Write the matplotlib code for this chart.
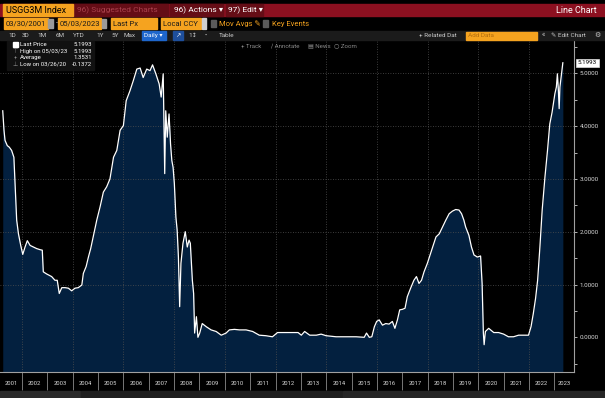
import numpy as np
import matplotlib.pyplot as plt
from matplotlib.patches import Rectangle
from matplotlib.transforms import blended_transform_factory

# USGG3M Index, last price, decimal years
years = [2001.24, 2001.29, 2001.33, 2001.42, 2001.50, 2001.59, 2001.68, 2001.74, 2001.79, 2001.86,
         2001.95, 2002.03, 2002.12, 2002.21, 2002.32, 2002.45, 2002.58, 2002.71, 2002.80, 2002.84,
         2002.97, 2003.17, 2003.30, 2003.39, 2003.47, 2003.57, 2003.70, 2003.83, 2003.96, 2004.09,
         2004.22, 2004.36, 2004.42, 2004.53, 2004.62, 2004.71, 2004.82, 2004.95, 2005.08, 2005.21,
         2005.34, 2005.47, 2005.61, 2005.74, 2005.87, 2006.00, 2006.11, 2006.26, 2006.39, 2006.53,
         2006.66, 2006.78, 2006.92, 2007.05, 2007.15, 2007.28, 2007.41, 2007.49, 2007.57, 2007.63,
         2007.67, 2007.73, 2007.80, 2007.86, 2007.91, 2007.96, 2008.01, 2008.07, 2008.12, 2008.17,
         2008.22, 2008.27, 2008.35, 2008.44, 2008.52, 2008.59, 2008.64, 2008.72, 2008.77, 2008.81,
         2008.88, 2008.94, 2009.01, 2009.11, 2009.27, 2009.46, 2009.66, 2009.86, 2010.05, 2010.18,
         2010.38, 2010.58, 2010.84, 2011.10, 2011.36, 2011.62, 2011.88, 2012.08, 2012.41, 2012.56,
         2012.89, 2013.02, 2013.15, 2013.35, 2013.61, 2013.80, 2014.00, 2014.39, 2014.78, 2015.18,
         2015.50, 2015.59, 2015.70, 2015.80, 2015.90, 2015.99, 2016.09, 2016.22, 2016.35, 2016.48,
         2016.61, 2016.71, 2016.81, 2016.90, 2017.01, 2017.11, 2017.20, 2017.33, 2017.46, 2017.56,
         2017.66, 2017.76, 2017.86, 2017.99, 2018.07, 2018.20, 2018.33, 2018.46, 2018.59, 2018.72,
         2018.85, 2018.98, 2019.11, 2019.24, 2019.34, 2019.43, 2019.50, 2019.63, 2019.73, 2019.83,
         2019.96, 2020.09, 2020.15, 2020.20, 2020.23, 2020.28, 2020.41, 2020.61, 2020.80, 2021.00,
         2021.19, 2021.39, 2021.59, 2021.78, 2021.98, 2022.08, 2022.17, 2022.26, 2022.34, 2022.43,
         2022.52, 2022.63, 2022.73, 2022.82, 2022.91, 2023.02, 2023.08, 2023.12, 2023.16, 2023.19,
         2023.22, 2023.335]
rates = [4.29, 3.92, 3.73, 3.63, 3.60, 3.54, 3.41, 2.78, 2.22, 1.96,
         1.74, 1.57, 1.71, 1.83, 1.74, 1.71, 1.68, 1.66, 1.65, 1.24,
         1.20, 1.15, 1.08, 1.08, 0.83, 0.94, 0.94, 0.93, 0.88, 0.93,
         0.94, 0.99, 1.21, 1.34, 1.52, 1.68, 1.93, 2.22, 2.47, 2.75,
         2.85, 3.00, 3.41, 3.54, 3.92, 4.01, 4.48, 4.67, 4.86, 5.08,
         5.10, 4.92, 5.08, 5.05, 5.16, 4.99, 4.80, 4.55, 4.99, 3.10,
         4.29, 3.79, 4.23, 3.66, 3.35, 3.22, 2.91, 2.28, 2.03, 1.52,
         0.58, 1.40, 1.78, 2.00, 1.71, 1.84, 1.78, 1.08, 0.83, 0.08,
         0.39, 0.00, 0.08, 0.26, 0.20, 0.14, 0.11, 0.04, 0.08, 0.14,
         0.15, 0.14, 0.14, 0.11, 0.04, 0.03, 0.01, 0.09, 0.09, 0.09,
         0.09, 0.04, 0.11, 0.04, 0.04, 0.06, 0.03, 0.01, 0.01, 0.01,
         0.00, 0.08, 0.00, 0.01, 0.20, 0.30, 0.33, 0.23, 0.26, 0.25,
         0.30, 0.17, 0.33, 0.52, 0.53, 0.55, 0.77, 0.93, 1.08, 1.15,
         1.02, 1.08, 1.24, 1.40, 1.52, 1.71, 1.90, 1.96, 2.09, 2.22,
         2.34, 2.39, 2.42, 2.41, 2.34, 2.22, 2.09, 1.93, 1.71, 1.56,
         1.52, 1.54, 1.02, 0.08, -0.14, 0.11, 0.17, 0.09, 0.09, 0.06,
         0.01, 0.01, 0.04, 0.04, 0.04, 0.20, 0.45, 0.74, 1.08, 1.71,
         2.41, 3.04, 3.54, 4.04, 4.26, 4.61, 4.74, 4.99, 4.67, 4.33,
         4.74, 5.1993]

year_labels = [str(y) for y in range(2001, 2024)]
legend_rows = [("Last Price", "5.1993"), ("High on 05/03/23", "5.1993"),
               ("Average", "1.3531"), ("Low on 03/26/20", "-0.1372")]
y_ticks = [0, 1, 2, 3, 4, 5]

W, H = 605, 398
plt.rcParams['font.family'] = ['Roboto', 'DejaVu Sans']

fig = plt.figure(figsize=(W / 100, H / 100), dpi=100, facecolor='black')


def box(x0, y0, x1, y1, color, z=1):
    fig.patches.append(Rectangle((x0 / W, 1 - y1 / H), (x1 - x0) / W, (y1 - y0) / H,
                                 transform=fig.transFigure, color=color, zorder=z))


def txt(x, y, s, color='#d0d0d0', size=5, ha='left', **kw):
    fig.text(x / W, 1 - y / H, s, color=color, fontsize=size, ha=ha, va='center', **kw)


# header: red title bar
orange = '#f5a31f'
box(0, 4, 605, 16, '#8c1020')
box(73, 4, 168, 16, '#650d16')
box(170, 4, 223, 16, '#650d16')
box(226, 4, 263, 16, '#650d16')
box(3, 4, 73, 16, orange)
txt(6, 10.5, "USGG3M Index", color='black', size=6.5)
txt(77, 10.5, "96) Suggested Charts", color='#a8404c', size=6)
txt(174, 10.5, "96) Actions \u25be", color='white', size=6)
txt(228, 10.5, "97) Edit \u25be", color='white', size=6)
txt(597, 10.5, "Line Chart", color='white', size=6.5, ha='right')

# second row: date range and fields
for x0, x1, s in [(4, 48, "03/30/2001"), (58, 101, "05/03/2023"),
                  (111, 157, "Last Px"), (161, 201, "Local CCY")]:
    box(x0, 18, x1, 29, orange)
    txt(x0 + 2, 23.8, s, color='#1a1a1a', size=5.5)
box(48.5, 19, 53, 28, '#9a9a9a')
box(101.5, 19, 106, 28, '#9a9a9a')
txt(55.5, 23.5, "-", color='#cccccc', size=5)
box(201.5, 18, 206, 29, '#cfcfcf')
box(211, 20, 216, 27, '#5a5a5a')
txt(219, 23.8, "Mov Avgs \u270e", color=orange, size=5.5)
box(263, 20, 268, 27, '#5a5a5a')
txt(272, 23.8, "Key Events", color=orange, size=5.5)

# third row: toolbar
box(0, 31, 605, 40, '#1b1b1b')
for x, s in [(8, "1D"), (22, "3D"), (37, "1M"), (56, "6M"), (73, "YTD"),
             (96, "1Y"), (111, "5Y"), (124, "Max")]:
    txt(x, 35.7, s, color='#c8c8c8', size=4.6)
box(142, 31, 166, 40, '#1e66cc')
txt(144, 35.7, "Daily \u25be", color='white', size=4.6)
box(173, 31, 183, 40, '#1e4f9c')
txt(175, 35.7, "\u2197", color='white', size=4.6)
txt(188, 35.7, "1\u2195", color='#c8c8c8', size=4.6)
txt(205, 35.7, "\u2022", color='#c8c8c8', size=4.6)
txt(219, 35.7, "Table", color='#c8c8c8', size=4.6)
txt(419, 35.7, "+ Related Dat", color='#c8c8c8', size=4.6)
box(466, 31.5, 537, 39.5, orange)
txt(468, 35.7, "Add Data", color='#b46e0c', size=4.6)
txt(542, 35.7, "\u00ab", color='#c8c8c8', size=5)
txt(551, 35.7, "\u270e Edit Chart", color='#c8c8c8', size=4.6)
txt(594, 35.7, "\u2699", color='#c8c8c8', size=5)

# bottom status band
box(0, 391, 80, 398, '#2a2a2a')
box(81, 391, 342, 398, '#1f1f1f')
box(343, 391, 605, 398, '#262626')

# chart
x_left = 2002 + (0 - 22) / 25.35
x_right = 2002 + (574 - 22) / 25.35
y_bottom = (337.3 - 372) / 52.8
y_top = (337.3 - 40) / 52.8

ax = fig.add_axes([0, 1 - 372 / H, 574 / W, (372 - 40) / H])
ax.set_facecolor('black')
ax.set_xlim(x_left, x_right)
ax.set_ylim(y_bottom, y_top)

ax.fill_between(years, rates, y_bottom, color='#03203f', lw=0, zorder=1)
ax.plot(years, rates, color='white', lw=0.9, zorder=3)

for y in y_ticks[1:]:
    ax.axhline(y, color='#505050', lw=0.6, ls=(0, (1, 2)), zorder=2)
for yr in range(2002, 2023, 2):
    ax.axvline(yr, color='#505050', lw=0.6, ls=(0, (1, 2)), zorder=2)

for side in ['left', 'top']:
    ax.spines[side].set_visible(False)
for side in ['right', 'bottom']:
    ax.spines[side].set_color('#a0a0a0')
    ax.spines[side].set_linewidth(0.8)

# x axis: year separators as major ticks, labels on minor ticks
ax.set_xticks(range(2002, 2024))
ax.set_xticklabels([])
mids = [(max(y, x_left) + min(y + 1, x_right)) / 2 for y in range(2001, 2024)]
ax.set_xticks(mids, minor=True)
ax.set_xticklabels(year_labels, minor=True)
ax.tick_params(axis='x', which='major', length=13, width=0.6, color='#8a8a8a', direction='out')
ax.tick_params(axis='x', which='minor', length=0, pad=6.5, labelsize=4.2, labelcolor='#d8d8d8')

# y axis on the right
ax.yaxis.tick_right()
ax.set_yticks(y_ticks)
ax.set_yticklabels([f"{v:.4f}" for v in y_ticks])
ax.set_yticks(np.arange(-0.5, 5.6, 0.5), minor=True)
ax.tick_params(axis='y', which='both', length=2.5, width=0.6, color='#cfcfcf', pad=1.5,
               labelsize=4.5, labelcolor='#d8d8d8')

tr = blended_transform_factory(ax.transAxes, ax.transData)
ax.text(1.007, rates[-1], "5.1993", transform=tr, fontsize=4.5, color='black', va='center',
        ha='left', bbox=dict(boxstyle='square,pad=0.25', fc='white', ec='#dddddd', lw=0.5))

# chart toolbar
for x, s in [(241, "+ Track"), (271, "\u2215 Annotate"), (308, "\u25a4 News"), (334, "\u25cb Zoom")]:
    txt(x, 46, s, color='#8a8a8a', size=4.4)

# legend block
box(7, 41, 94, 70, '#111111', z=5)
box(12.5, 42.3, 17.5, 47.3, 'white', z=6)
marks = ["", "\u22a4", "+", "\u22a5"]
for i, (name, val) in enumerate(legend_rows):
    y = 44.8 + i * 6.55
    if marks[i]:
        fig.text(15 / W, 1 - y / H, marks[i], color='#8a8a8a', fontsize=4.3, ha='center',
                 va='center', zorder=7)
    fig.text(20 / W, 1 - y / H, name, color='white', fontsize=4.3, va='center', zorder=7)
    fig.text(92 / W, 1 - y / H, val, color='white', fontsize=4.3, va='center', ha='right', zorder=7)

fig.savefig('out.png', dpi=100, facecolor='black')
